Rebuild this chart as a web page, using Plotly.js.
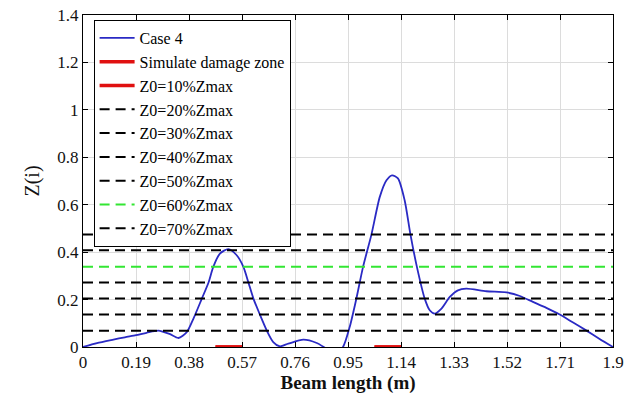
<!DOCTYPE html>
<html>
<head>
<meta charset="utf-8">
<script src="https://cdn.plot.ly/plotly-3.0.1.min.js"></script>
<style>html,body{margin:0;padding:0;background:#fff;}#chart{width:642px;height:394px;}</style>
</head>
<body>
<div id="chart"></div>
<script>
// Case 4 damage index curve
const beamX = [0, 0.05, 0.109, 0.15, 0.19, 0.228, 0.27, 0.31, 0.342, 0.372, 0.396, 0.426, 0.45, 0.467, 0.491, 0.521, 0.551, 0.575, 0.593, 0.611, 0.634, 0.659, 0.682, 0.706, 0.736, 0.79, 0.838, 0.866, 0.89, 0.91, 0.932, 0.956, 0.98, 1.004, 1.034, 1.064, 1.088, 1.108, 1.129, 1.153, 1.174, 1.197, 1.225, 1.243, 1.261, 1.285, 1.315, 1.344, 1.374, 1.446, 1.518, 1.566, 1.613, 1.661, 1.709, 1.757, 1.805, 1.852, 1.9];
const caseZ = [0, 0.016, 0.031, 0.041, 0.05, 0.06, 0.069, 0.055, 0.038, 0.063, 0.12, 0.204, 0.272, 0.338, 0.394, 0.413, 0.387, 0.338, 0.272, 0.204, 0.137, 0.069, 0.021, 0.003, 0.014, 0.031, 0.017, -0.002, -0.02, -0.02, 0.0, 0.084, 0.204, 0.338, 0.474, 0.633, 0.703, 0.724, 0.711, 0.619, 0.474, 0.338, 0.204, 0.155, 0.141, 0.162, 0.211, 0.239, 0.246, 0.235, 0.230, 0.215, 0.190, 0.165, 0.137, 0.103, 0.069, 0.034, 0];
// Simulated damage zones (on the beam axis)
const damageX = [0.475, 0.57, null, 1.045, 1.14];
const damageZ = [0, 0, null, 0, 0];
// Threshold levels (Z0), bottom to top
const thresholdLevels = [0.069, 0.137, 0.204, 0.272, 0.338, 0.408, 0.474];
const thresholdNames = ['Z0=20%Zmax', 'Z0=30%Zmax', 'Z0=40%Zmax', 'Z0=50%Zmax', 'Z0=60%Zmax', 'Z0=70%Zmax', ''];
const thresholdColors = ['#000000', '#000000', '#000000', '#000000', '#33e633', '#000000', '#000000'];
const xTicks = [0, 0.19, 0.38, 0.57, 0.76, 0.95, 1.14, 1.33, 1.52, 1.71, 1.9];
const xTickText = ['0', '0.19', '0.38', '0.57', '0.76', '0.95', '1.14', '1.33', '1.52', '1.71', '1.9'];
const yTicks = [0, 0.2, 0.4, 0.6, 0.8, 1, 1.2, 1.4];

const xMin = xTicks[0], xMax = xTicks[xTicks.length - 1];

const traces = [];
traces.push({x: beamX, y: caseZ, type: 'scatter', mode: 'lines', name: 'Case 4',
  line: {color: '#2a2ac4', width: 1.8, shape: 'spline', smoothing: 0.7}});
traces.push({x: damageX, y: damageZ, type: 'scatter', mode: 'lines', name: 'Simulate damage zone',
  line: {color: '#e01010', width: 3.5}, connectgaps: false});
traces.push({x: damageX, y: damageZ, type: 'scatter', mode: 'lines', name: 'Z0=10%Zmax',
  line: {color: '#e01010', width: 3.5}, connectgaps: false});
thresholdLevels.forEach((lv, i) => {
  traces.push({x: [xMin, xMax], y: [lv, lv], type: 'scatter', mode: 'lines',
    name: thresholdNames[i], showlegend: thresholdNames[i] !== '',
    line: {color: thresholdColors[i], width: 2, dash: '10px,6px'}});
});

const layout = {
  width: 642, height: 394,
  margin: {l: 83, r: 29, t: 15, b: 47},
  paper_bgcolor: '#ffffff', plot_bgcolor: '#ffffff',
  showlegend: true,
  legend: {x: 0.02, y: 0.985, xanchor: 'left', yanchor: 'top',
    bgcolor: '#ffffff', bordercolor: '#000000', borderwidth: 1,
    font: {family: 'Times New Roman', size: 16, color: '#000'}, itemwidth: 35, tracegroupgap: 0},
  xaxis: {range: [xMin, xMax], tickvals: xTicks, ticktext: xTickText,
    showgrid: true, gridcolor: '#dcdcdc', gridwidth: 1, zeroline: false,
    showline: true, linecolor: '#000', linewidth: 1, mirror: 'ticks',
    ticks: 'inside', ticklen: 5, tickcolor: '#000',
    tickfont: {family: 'Times New Roman', size: 17, color: '#111'},
    title: {text: '<b>Beam length (m)</b>', font: {family: 'Times New Roman', size: 19, color: '#111'}, standoff: 2}},
  yaxis: {range: [0, 1.4], tickvals: yTicks,
    showgrid: true, gridcolor: '#dcdcdc', gridwidth: 1, zeroline: false,
    showline: true, linecolor: '#000', linewidth: 1, mirror: 'ticks',
    ticks: 'inside', ticklen: 5, tickcolor: '#000',
    tickfont: {family: 'Times New Roman', size: 17, color: '#111'},
    title: {text: 'Z(i)', font: {family: 'Times New Roman', size: 20, color: '#111'}, standoff: 12}}
};

Plotly.newPlot('chart', traces, layout, {displayModeBar: false, staticPlot: true});
</script>
</body>
</html>
